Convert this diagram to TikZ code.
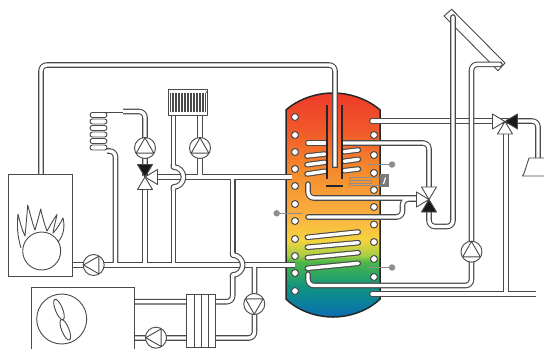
\documentclass[tikz,border=0pt]{standalone}
\usetikzlibrary{calc}
\definecolor{wall}{HTML}{4A4A4A}
\definecolor{sens}{HTML}{8E8E8E}
\definecolor{tb}{HTML}{0B6DB5}\definecolor{tt}{HTML}{0E9480}\definecolor{tg}{HTML}{4DB748}
\definecolor{tl}{HTML}{A8CF45}\definecolor{ty}{HTML}{F5D33F}\definecolor{to}{HTML}{FBB040}
\definecolor{tm}{HTML}{F58A2D}\definecolor{tr}{HTML}{F1592A}\definecolor{ta}{HTML}{EE3A2A}
\pgfdeclareverticalshading{tankgrad}{100bp}{
 color(0bp)=(tb);color(25bp)=(tb);color(31.7bp)=(tt);color(37.3bp)=(tg);color(38.8bp)=(tl);
 color(42.2bp)=(ty);color(47.8bp)=(to);color(57.8bp)=(tm);color(66.7bp)=(tr);color(75bp)=(ta);color(100bp)=(ta)}
\tikzset{
 pipeout/.style={color=wall,line width=5.6pt,line join=round,rounded corners=6pt},
 pipein/.style={color=white,line width=3.4pt,line join=round,rounded corners=6pt},
 thinline/.style={draw=wall,line width=0.9pt,line join=round},
 pumpnode/.style={circle,draw=wall,fill=white,line width=0.9pt,minimum size=21pt,inner sep=0pt},
 hole/.style={circle,draw=wall,fill=white,line width=1pt,minimum size=7pt,inner sep=0pt},
 sdot/.style={circle,fill=sens,minimum size=6.5pt,inner sep=0pt},
 sline/.style={draw=sens,line width=1pt},
 rod/.style={draw=black!85,line width=2.2pt}
}
\newcommand\twopass[1]{\begin{scope}[pipeout]#1\end{scope}\begin{scope}[pipein]#1\end{scope}}
\newcommand\pumptri[2]{\draw[thinline,shift={(#1)},rotate=#2] (10.2,0)--(-5.1,8.8)--(-5.1,-8.8)--cycle;}
\newcommand\valvetri[3]{\draw[thinline,fill=#3,shift={(#1)},rotate=#2] (0,0)--(12.5,-7.5)--(12.5,7.5)--cycle;}
\begin{document}
\begin{tikzpicture}[x=1pt,y=-1pt]
\useasboundingbox (0,0) rectangle (544,349);
% collector
\draw[thinline,fill=white] (451.7,9.3)--(444,16)--(498,70.7)--(505,63)--cycle;
% tank
\shade[shading=tankgrad] (286,110) .. controls (297,100) and (315,93) .. (333,93) .. controls (351,93) and (369,100) .. (380,110)
 -- (380,299) .. controls (369,310) and (351,317) .. (333,317) .. controls (315,317) and (297,310) .. (286,299) -- cycle;
\draw[draw=black!85,line width=1.5pt] (286,110) .. controls (297,100) and (315,93) .. (333,93) .. controls (351,93) and (369,100) .. (380,110)
 -- (380,299) .. controls (369,310) and (351,317) .. (333,317) .. controls (315,317) and (297,310) .. (286,299) -- cycle;
% left network
\twopass{
 \draw (72,265) -- (295,265);
 \draw (158,177) -- (292,177);
 \draw (107,151) -- (115.5,151) -- (115.5,265);
 \draw (145,265) -- (145,185);
 \draw (173.5,265) -- (173.5,187);
 \draw (173.5,167) -- (173.5,112);
 \draw (200,177) -- (200,112);
 \draw (232.7,177) -- (232.7,255);
 \draw (232.7,275) -- (232.7,301.7) -- (135,301.7);
 \draw (254.5,265) -- (254.5,338) -- (135,338);
 \draw (145,176) -- (145,111.5) -- (123,111.5);
}
% jumps
\twopass{\draw[sharp corners] (173.5,164) -- (173.5,167) arc[start angle=-90,delta angle=180,radius=10] -- (173.5,190);}
\twopass{\draw[sharp corners] (232.7,252) -- (232.7,255) arc[start angle=-90,delta angle=180,radius=10] -- (232.7,278);}
% top pipe
\twopass{\draw[line cap=rect] (41,178) -- (41,65) -- (335,65) -- (335,165);}
% pipes on the right of the tank
\twopass{
 \draw[line cap=round] (372,121) -- (505,121);
 \draw (505,121) -- (538,121) -- (538,158);
}
\twopass{\draw (343,143) -- (429,143) -- (429,190);}
\twopass{
 \draw[line cap=round] (308,184) -- (308,198) -- (417,198);
 \draw[line cap=round] (308,217) -- (402.5,217) -- (402.5,199) -- (417,199);
}
\twopass{
 \draw (374,294) -- (536,294);
 \draw[line cap=round] (372,294) -- (376,294);
 \draw (506,130) -- (506,294);
}
\twopass{\draw[line cap=round] (308,274) -- (308,285.5) -- (471.5,285.5) -- (471.5,64.3) -- (500,64.3);}
\twopass{\draw[line cap=round] (453,17) -- (453,226.5) -- (429,226.5) -- (429,205);}
% coils
\twopass{
 \draw[line cap=round] (308,143) -- (325,143);
 \draw[line cap=round] (307,156) -- (325,154);
 \draw[line cap=round] (307,164.7) -- (325,162.3);
 \draw[line cap=round] (307,174) -- (325,171.3);
 \draw[line cap=round] (344,151.7) -- (358.5,150);
 \draw[line cap=round] (344,161.3) -- (358.5,159.3);
 \draw[line cap=round] (344,170.7) -- (358.5,169);
 \draw[line cap=round] (307.3,237.3) -- (358.3,232);
 \draw[line cap=round] (307.3,247.3) -- (358.3,242.7);
 \draw[line cap=round] (307.3,257.7) -- (358.3,252.7);
 \draw[line cap=round] (307.3,268.3) -- (358.3,263.3);
}
% rods
\draw[rod] (326.7,105) -- (326.7,179);
\draw[rod] (342.3,105) -- (342.3,179);
\draw[rod] (326,185.7) -- (343,185.7);
% holes
\foreach \yy in {117,135,152,169,186,204,221,239,256,273,291} \node[hole] at (295,\yy) {};
\foreach \yy in {135,155,173,190,207,224.5,242,259,277} \node[hole] at (374,\yy) {};
% sensors
\node[sdot] (s1) at (392,164.5) {};
\coordinate (s1a) at (367,164.5);
\draw[sline] (s1a) -- (s1);
\node[sdot] (s2) at (276.7,213.3) {};
\coordinate (s2a) at (302,213.3);
\draw[sline] (s2a) -- (s2);
\node[sdot] (s3) at (392,267.5) {};
\coordinate (s3a) at (367,267.5);
\draw[sline] (s3a) -- (s3);
% thermostat
\draw[sline] (382,177.7) -- (349,177.7) -- (349,185) -- (382,185);
\draw[sline] (349,180.5) -- (371,180.5) -- (371,183) -- (349,183);
\fill[sens!85!black] (380,174) rectangle (389.3,186.7);
\draw[white,line width=1.2pt] (385.5,177.5) -- (383.5,184);
% radiator
\draw[thinline,fill=white] (168,89) rectangle (207,115);
\foreach \xx in {170.5,172,...,205} \draw[wall,line width=0.7pt] (\xx,92.5) -- (\xx,111.5);
\fill[wall] (207,92) circle (1.2);
% floor coil
\foreach \ii in {0,...,5} \draw[thinline,fill=white,rounded corners=2.4pt] (90,112.5+\ii*6.5) rectangle (107,117.5+\ii*6.5);
\draw[thinline] (123,112) -- (92,112);
% boiler
\draw[wall,line width=1pt,fill=white] (8.3,174) rectangle (72,276);
\draw[wall,line width=0.9pt,line join=round] (41.7,251) circle (19);
\draw[wall,line width=0.9pt,line join=round] (21,248) .. controls (17,235) and (17,225) .. (18,214)
 .. controls (20,222) and (22,230) .. (25,236) .. controls (26,226) and (27,215) .. (27.7,205)
 .. controls (30,213) and (32,222) .. (35,230) .. controls (37,223) and (39,216) .. (40.7,209)
 .. controls (42,215) and (44,223) .. (47,231) .. controls (50,226) and (53,220) .. (57,214.5)
 .. controls (56,220) and (54,226) .. (53,233) .. controls (57,229) and (60,224) .. (63,218)
 .. controls (65,226) and (64,235) .. (58,242);
% outdoor unit
\draw[wall,line width=1pt,fill=white] (31.7,349) -- (31.7,287) -- (134.7,287) -- (134.7,349);
\draw[wall,line width=0.9pt] (61.7,319) circle (25);
\draw[wall,line width=0.9pt,rotate around={-68:(59,309.5)}] (59,309.5) ellipse (11 and 3.6);
\draw[wall,line width=0.9pt,rotate around={-68:(65.3,329.7)}] (65.3,329.7) ellipse (11 and 3.6);
% heat exchanger
\draw[wall,line width=1pt,fill=white] (186.7,294) rectangle (215.7,347);
\foreach \xx in {194,201,208.7} \draw[wall,line width=1pt] (\xx,294) -- (\xx,347);
% shower
\draw[thinline,fill=white] (529,158) -- (544.5,158) -- (544.5,176) -- (522.5,176) -- (524,173.5) -- cycle;
% pumps
\node[pumpnode] (P1) at (145,148) {}; \pumptri{P1}{90}
\node[pumpnode] (P2) at (200,148) {}; \pumptri{P2}{90}
\node[pumpnode] (P3) at (93.7,265) {}; \pumptri{P3}{180}
\node[pumpnode] (P4) at (156,337.7) {}; \pumptri{P4}{180}
\node[pumpnode] (P5) at (254.3,304) {}; \pumptri{P5}{270}
\node[pumpnode] (P6) at (471.5,251.7) {}; \pumptri{P6}{90}
% valves
\coordinate (V1) at (145,177);
\valvetri{V1}{90}{black!90}\valvetri{V1}{270}{white}\valvetri{V1}{0}{white}
\coordinate (V2) at (429,199.5);
\valvetri{V2}{90}{white}\valvetri{V2}{270}{black!90}\valvetri{V2}{180}{white}
\coordinate (V3) at (505,121.5);
\valvetri{V3}{180}{white}\valvetri{V3}{0}{black!90}\valvetri{V3}{270}{white}
\end{tikzpicture}
\end{document}
